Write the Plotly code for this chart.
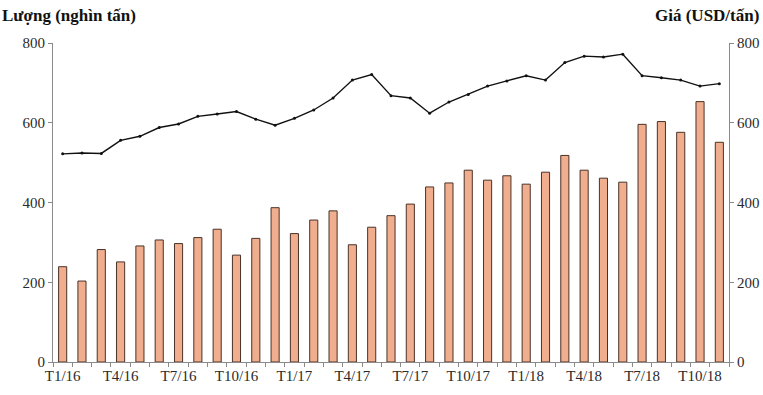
import plotly.graph_objects as go

months = [f"T{m}/{y}" for y in (16, 17, 18) for m in range(1, 13)][:35]

volume = [239, 203, 282, 251, 291, 306, 297, 312, 333, 268, 310,
          387, 322, 356, 379, 294, 338, 367, 396, 439, 449, 481, 456, 467,
          446, 476, 518, 481, 461, 451, 596, 603, 576, 653, 551]

price = [522, 524, 523, 556, 566, 588, 597, 616, 622, 628, 609,
         594, 611, 632, 662, 707, 721, 668, 662, 624, 652, 671, 692, 705,
         718, 707, 751, 767, 765, 772, 718, 713, 707, 692, 698]

tick_text = [m if m.split("/")[0] in ("T1", "T4", "T7", "T10") else "" for m in months]

fig = go.Figure()
fig.add_trace(go.Bar(
    x=months, y=volume, width=0.42,
    marker=dict(color="#F0AE8E", line=dict(color="#4a3228", width=1)),
    yaxis="y", showlegend=False,
))
fig.add_trace(go.Scatter(
    x=months, y=price, mode="lines+markers",
    line=dict(color="#111111", width=1.4),
    marker=dict(color="#111111", size=3),
    yaxis="y2", showlegend=False,
))

font_fam = "Times New Roman, Tinos, DejaVu Serif, serif"
axis_col = "#8a8a8a"
tick_font = dict(size=15, family=font_fam, color="#2a2a2a")

fig.update_layout(
    width=763, height=395,
    margin=dict(l=53, r=34, t=43, b=33, autoexpand=False),
    paper_bgcolor="white", plot_bgcolor="white",
    font=dict(family=font_fam, size=15, color="#2a2a2a"),
    xaxis=dict(
        type="category", range=[-0.5, 34.5],
        tickmode="array", tickvals=months, ticktext=tick_text, tickangle=0,
        tickson="boundaries", ticks="outside", ticklen=4, tickcolor=axis_col,
        showline=True, linecolor=axis_col, linewidth=1,
        showgrid=False, zeroline=False, automargin=False,
        tickfont=tick_font,
    ),
    yaxis=dict(
        range=[0, 800], tickvals=[0, 200, 400, 600, 800],
        ticks="outside", ticklen=4, tickcolor=axis_col,
        showline=True, linecolor=axis_col, linewidth=1,
        showgrid=False, zeroline=False, automargin=False,
        tickfont=tick_font,
    ),
    yaxis2=dict(
        range=[0, 800], tickvals=[0, 200, 400, 600, 800],
        overlaying="y", side="right",
        ticks="outside", ticklen=4, tickcolor=axis_col,
        showline=True, linecolor=axis_col, linewidth=1,
        showgrid=False, zeroline=False, automargin=False,
        tickfont=tick_font,
    ),
    annotations=[
        dict(text="<b>Lượng (nghìn tấn)</b>", xref="paper", yref="paper",
             x=-53/676, y=1 + 27/319, xanchor="left", yanchor="middle",
             showarrow=False, font=dict(size=17, family=font_fam, color="#111111")),
        dict(text="<b>Giá (USD/tấn)</b>", xref="paper", yref="paper",
             x=1 + 32/676, y=1 + 27/319, xanchor="right", yanchor="middle",
             showarrow=False, font=dict(size=17, family=font_fam, color="#111111")),
    ],
)

fig.write_html("out.html")
